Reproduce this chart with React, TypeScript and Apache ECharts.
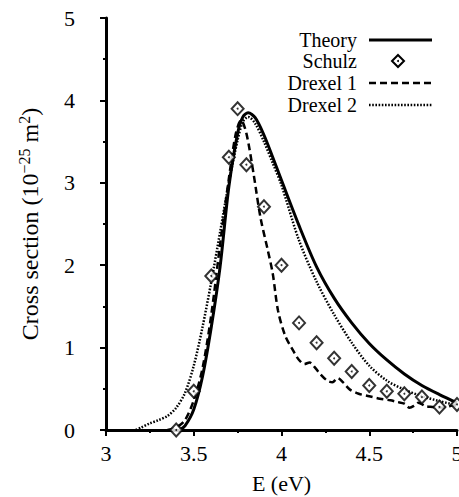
import React, { useEffect, useRef } from "react";
import * as echarts from "echarts";

const xTicks = [3, 3.5, 4, 4.5, 5];
const yTicks = [0, 1, 2, 3, 4, 5];

const theory: [number, number][] = [
  [3.42, 0], [3.45, 0.05], [3.5, 0.25], [3.55, 0.65], [3.6, 1.25], [3.65, 1.98],
  [3.7, 2.95], [3.75, 3.6], [3.78, 3.8], [3.81, 3.85], [3.85, 3.79], [3.9, 3.58],
  [3.95, 3.31], [4.0, 3.03], [4.1, 2.48], [4.2, 1.98], [4.3, 1.6], [4.4, 1.3],
  [4.5, 1.05], [4.6, 0.85], [4.7, 0.68], [4.8, 0.54], [4.9, 0.43], [5.0, 0.33],
];

const schulz: [number, number][] = [
  [3.4, 0.0], [3.5, 0.47], [3.6, 1.87], [3.7, 3.31], [3.75, 3.9], [3.8, 3.22],
  [3.9, 2.71], [4.0, 2.0], [4.1, 1.3], [4.2, 1.06], [4.3, 0.87], [4.4, 0.71],
  [4.5, 0.54], [4.6, 0.47], [4.7, 0.44], [4.8, 0.4], [4.9, 0.28], [5.0, 0.31],
];

const drexel1: [number, number][] = [
  [3.35, 0], [3.4, 0.03], [3.45, 0.12], [3.5, 0.36], [3.55, 0.75], [3.6, 1.4],
  [3.65, 2.25], [3.7, 3.05], [3.74, 3.6], [3.77, 3.76], [3.8, 3.6], [3.84, 3.12],
  [3.88, 2.58], [3.92, 2.2], [3.95, 1.9], [3.98, 1.45], [4.02, 1.15], [4.07, 0.95],
  [4.1, 0.85], [4.13, 0.8], [4.16, 0.82], [4.19, 0.76], [4.22, 0.68], [4.26, 0.6],
  [4.29, 0.58], [4.32, 0.63], [4.35, 0.58], [4.39, 0.49], [4.44, 0.44], [4.5, 0.41],
  [4.56, 0.38], [4.62, 0.36], [4.66, 0.34], [4.7, 0.32], [4.73, 0.27], [4.76, 0.3],
  [4.78, 0.33], [4.82, 0.29], [4.86, 0.28], [4.9, 0.27], [4.94, 0.28], [4.98, 0.3],
  [5.0, 0.29],
];

const drexel2: [number, number][] = [
  [3.17, 0], [3.2, 0.03], [3.25, 0.08], [3.3, 0.12], [3.35, 0.17], [3.4, 0.27],
  [3.45, 0.45], [3.5, 0.78], [3.55, 1.25], [3.6, 1.8], [3.65, 2.4], [3.7, 3.0],
  [3.75, 3.52], [3.78, 3.74], [3.81, 3.8], [3.85, 3.72], [3.9, 3.5], [3.95, 3.24],
  [4.0, 2.97], [4.1, 2.3], [4.2, 1.8], [4.3, 1.4], [4.4, 1.06], [4.5, 0.78],
  [4.6, 0.6], [4.7, 0.49], [4.8, 0.41], [4.9, 0.35], [5.0, 0.3],
];

const legendNames = ["Theory", "Schulz", "Drexel 1", "Drexel 2"];

const FONT = "Times New Roman";
const TXT = "#000";

export default function App() {
  const ref = useRef<HTMLDivElement>(null);
  useEffect(() => {
    document.body.style.margin = "0";
    const chart = echarts.init(ref.current!, null, { renderer: "svg" });
    const lx0 = 369, lx1 = 432, tx = 357;
    const rows = [40, 61, 83, 105];
    const legendGraphics: any[] = [];
    legendNames.forEach((n, i) => {
      legendGraphics.push({
        type: "text",
        x: tx,
        y: rows[i],
        style: { text: n, fontFamily: FONT, fontSize: 20, fill: TXT, align: "right", verticalAlign: "middle" },
      });
    });
    legendGraphics.push({ type: "line", shape: { x1: lx0, y1: rows[0], x2: lx1, y2: rows[0] }, style: { stroke: "#000", lineWidth: 3 } });
    legendGraphics.push({ type: "polygon", shape: { points: [[398, rows[1] - 6], [404, rows[1]], [398, rows[1] + 6], [392, rows[1]]] }, style: { fill: "#fff", stroke: "#000", lineWidth: 2 } });
    legendGraphics.push({ type: "circle", shape: { cx: 398, cy: rows[1], r: 1 }, style: { fill: "#000" } });
    legendGraphics.push({ type: "line", shape: { x1: lx0, y1: rows[2], x2: lx1, y2: rows[2] }, style: { stroke: "#000", lineWidth: 2.5, lineDash: [7, 4] } });
    legendGraphics.push({ type: "line", shape: { x1: lx0, y1: rows[3], x2: lx1, y2: rows[3] }, style: { stroke: "#000", lineWidth: 2.5, lineDash: [1.6, 1.6] } });

    chart.setOption({
      animation: false,
      backgroundColor: "#fff",
      textStyle: { fontFamily: FONT, color: TXT },
      grid: { left: 106, right: 2, top: 18, bottom: 67, containLabel: false, outerBoundsMode: "none" },
      xAxis: {
        type: "value",
        min: 3,
        max: 5,
        interval: 0.5,
        name: "E (eV)",
        nameLocation: "middle",
        nameGap: 42,
        nameTextStyle: { fontFamily: FONT, fontSize: 22, color: TXT },
        axisLine: { lineStyle: { color: "#000", width: 3 } },
        axisTick: { show: true, length: 6, lineStyle: { color: "#000", width: 2 } },
        minorTick: { show: true, splitNumber: 2, length: 3, lineStyle: { color: "#000", width: 2 } },
        axisLabel: {
          fontFamily: FONT, fontSize: 22, color: TXT, margin: 12,
          formatter: (v: number) => (xTicks.includes(v) ? String(v) : ""),
        },
        splitLine: { show: false },
      },
      yAxis: {
        type: "value",
        min: 0,
        max: 5,
        interval: 1,
        name: "{a|Cross section (10}{s|−25}{a| m}{s|2}{a|)}",
        nameLocation: "middle",
        nameGap: 62,
        nameRotate: 90,
        nameTextStyle: {
          fontFamily: FONT, fontSize: 24, color: TXT,
          rich: {
            a: { fontFamily: FONT, fontSize: 24, color: TXT },
            s: { fontFamily: FONT, fontSize: 16, color: TXT, verticalAlign: "top", padding: [0, 0, 12, 0] },
          },
        },
        axisLine: { show: true, lineStyle: { color: "#000", width: 3 } },
        axisTick: { show: true, length: 6, lineStyle: { color: "#000", width: 2 } },
        minorTick: { show: true, splitNumber: 2, length: 3, lineStyle: { color: "#000", width: 2 } },
        axisLabel: {
          fontFamily: FONT, fontSize: 22, color: TXT, margin: 31,
          formatter: (v: number) => (yTicks.includes(v) ? String(v) : ""),
        },
        splitLine: { show: false },
      },
      graphic: legendGraphics,
      series: [
        {
          name: "Theory", type: "line", data: theory, smooth: 0.3, showSymbol: false,
          lineStyle: { color: "#000", width: 3 }, z: 3,
        },
        {
          name: "Drexel 1", type: "line", data: drexel1, smooth: 0.3, showSymbol: false,
          lineStyle: { color: "#000", width: 2.5, type: [7, 4] }, z: 3,
        },
        {
          name: "Drexel 2", type: "line", data: drexel2, smooth: 0.3, showSymbol: false,
          lineStyle: { color: "#000", width: 2.5, type: [1.6, 1.6] }, z: 3,
        },
        {
          name: "Schulz", type: "scatter", data: schulz, symbol: "diamond", symbolSize: [12, 13],
          itemStyle: { color: "#fff", borderColor: "#000", borderWidth: 2 }, z: 4,
        },
        {
          name: "Schulz center", type: "scatter", data: schulz, symbol: "circle", symbolSize: 2,
          itemStyle: { color: "#000" }, z: 5, silent: true,
        },
      ],
    });
    return () => chart.dispose();
  }, []);
  return <div ref={ref} style={{ width: 459, height: 497 }} />;
}
